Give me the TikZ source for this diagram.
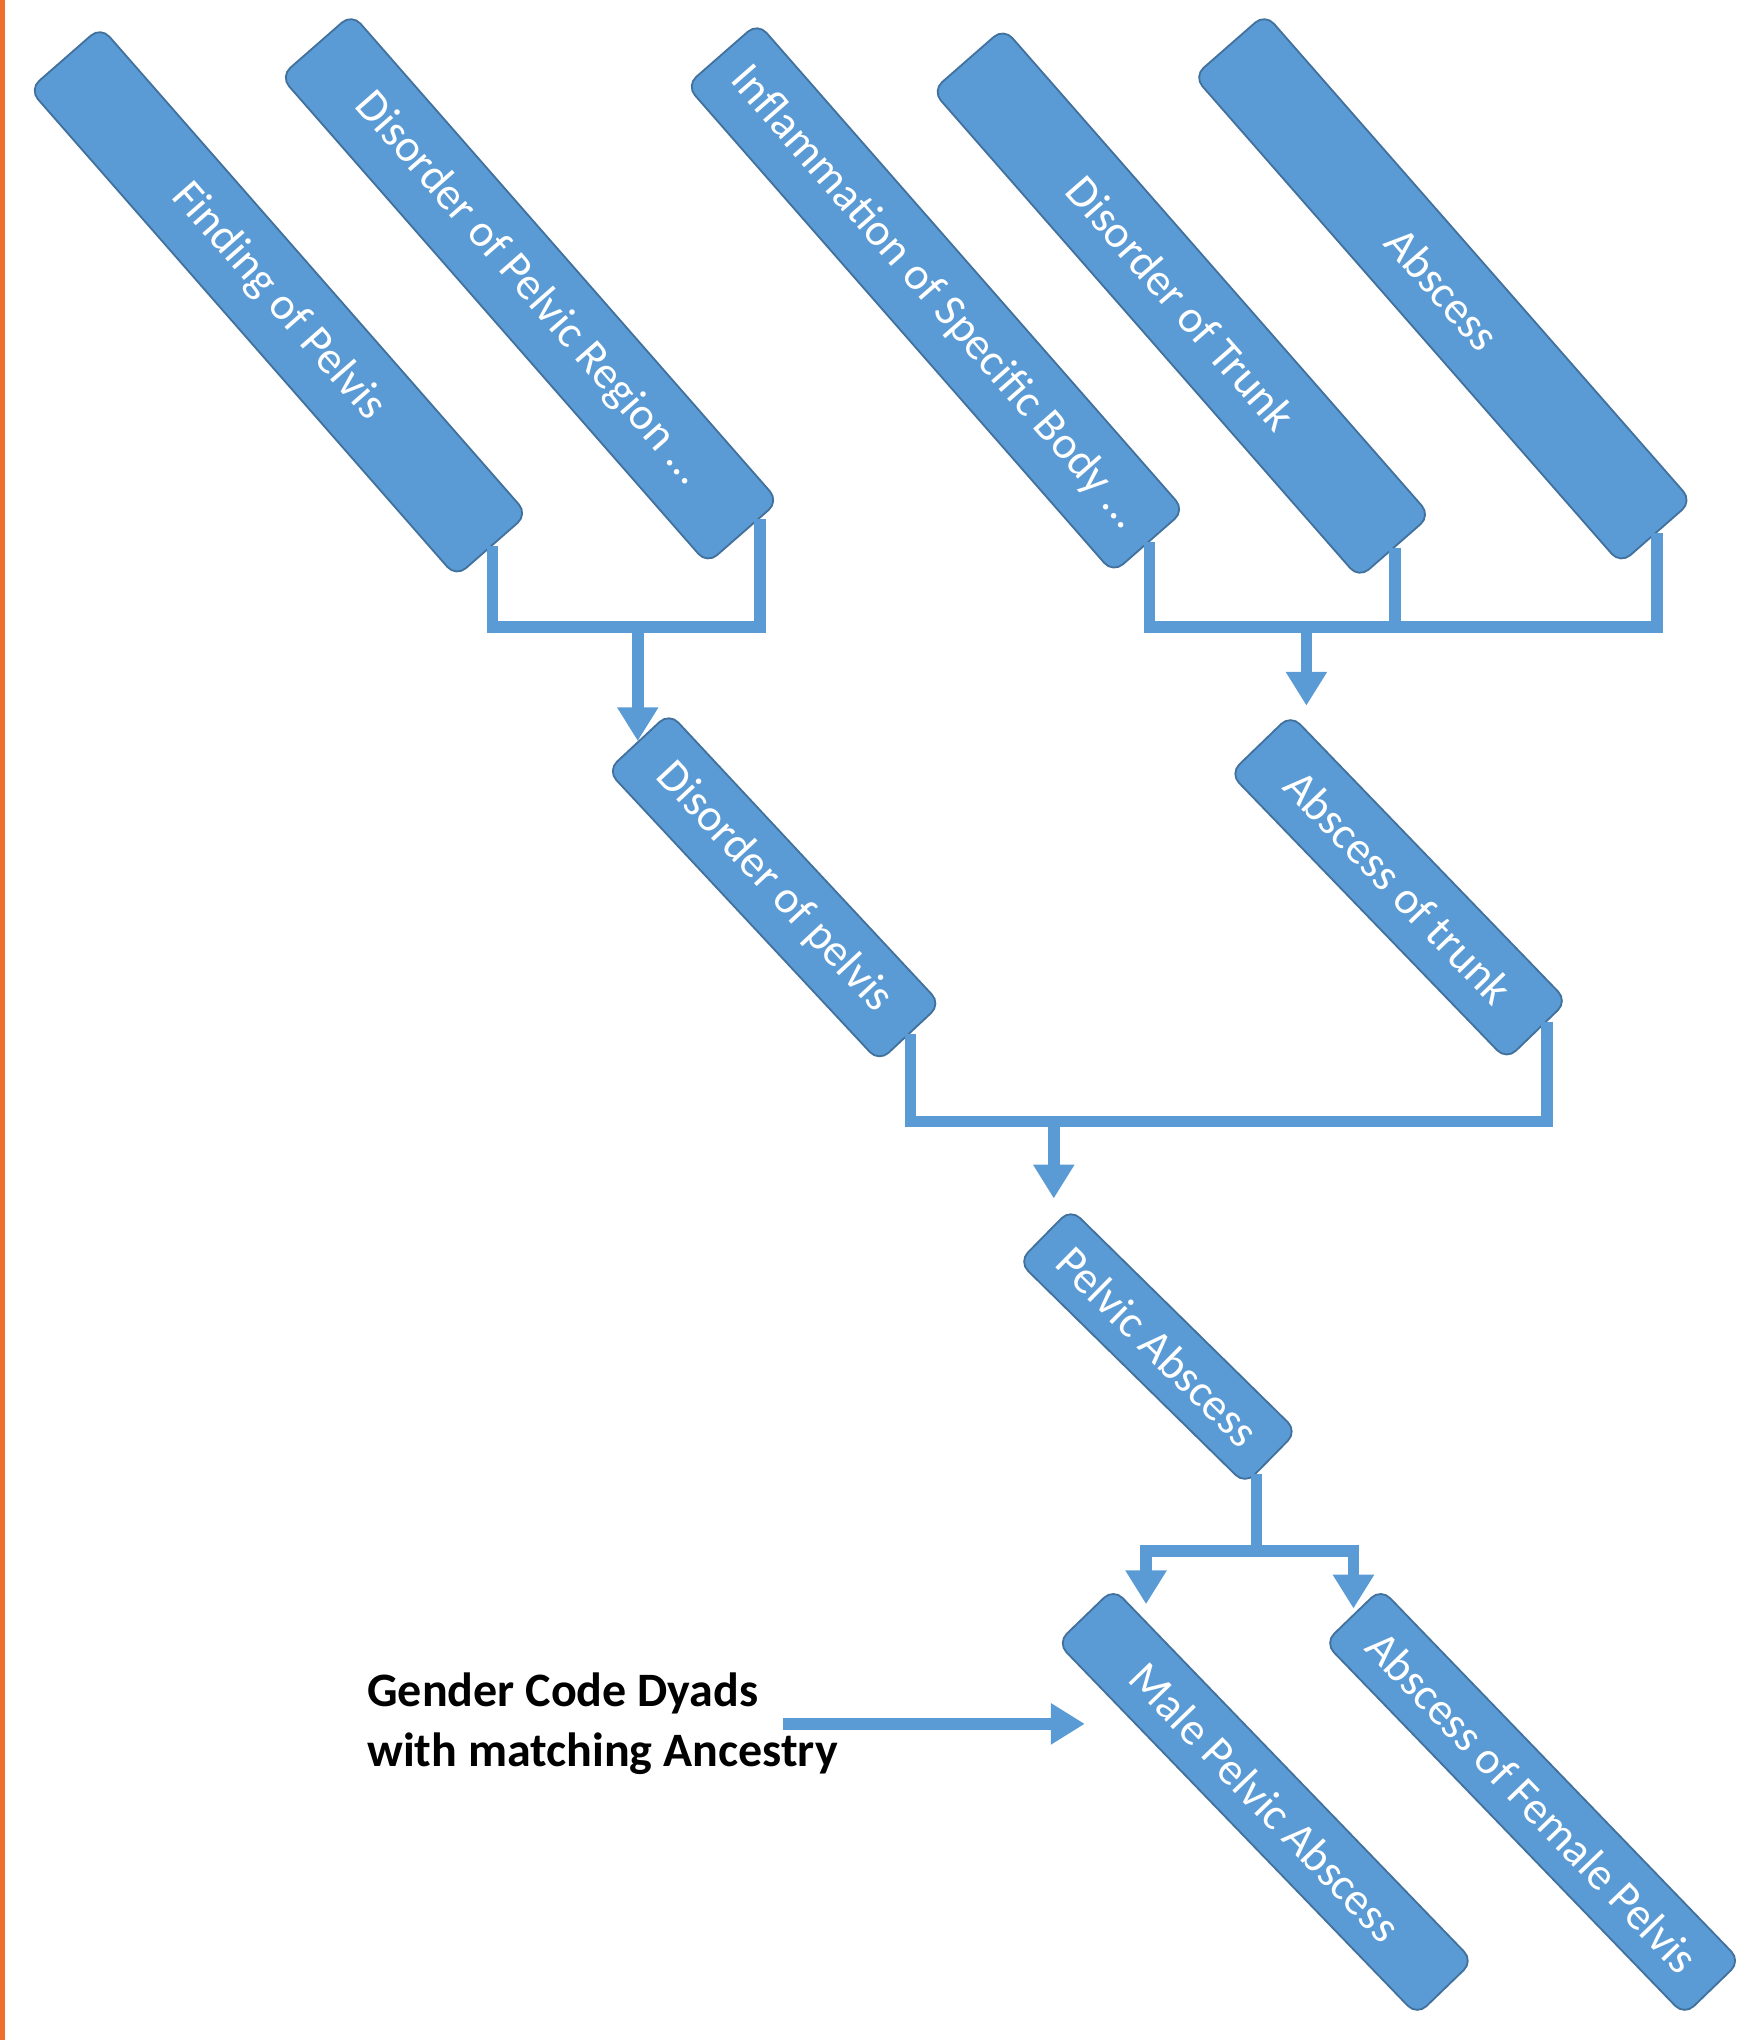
\documentclass[tikz,border=0pt]{standalone}
\usepackage{fontspec}
\setmainfont{Carlito}
\usetikzlibrary{arrows.meta,calc}
\definecolor{boxc}{RGB}{91,155,213}
\definecolor{bordc}{RGB}{65,113,156}
\definecolor{linec}{RGB}{91,155,213}
\definecolor{orangeL}{RGB}{237,110,45}
\begin{document}
\begin{tikzpicture}[x=0.02cm,y=-0.02cm,
  box/.style={draw=bordc,fill=boxc,line width=0.8pt,rounded corners=0.2cm,text=white,
    font=\fontsize{20}{24}\selectfont,inner sep=0pt,anchor=center},
  topbox/.style={box,minimum width=9.96cm,minimum height=1.46cm},
  gtext/.style={align=left,inner sep=0pt,font=\bfseries\fontsize{21}{26}\selectfont},
  conn/.style={draw=linec,line width=0.18cm,line join=miter},
  tipA/.tip={Triangle[width=0.6cm,length=0.52cm]},
  arr/.style={conn,-tipA},
  ]
\useasboundingbox (0,0) rectangle (1347,1568);
\fill[orangeL] (0,0) rectangle (4,1568);

% boxes
\node[topbox,rotate=-48.8] (A) at (214,232) {Finding of Pelvis};
\node[topbox,rotate=-48.8] (B) at (407,222) {Disorder of Pelvic Region ...};
\node[topbox,rotate=-48.8] (C) at (719,229) {Inflammation of Specific Body ...};
\node[topbox,rotate=-48.8] (D) at (908,233) {Disorder of Trunk};
\node[topbox,rotate=-48.8] (E) at (1109,222) {Abscess};
\node[box,rotate=-47,minimum width=6.12cm,minimum height=1.3cm] (F) at (595,682) {Disorder of pelvis};
\node[box,rotate=-46,minimum width=6.12cm,minimum height=1.3cm] (G) at (1075,682) {Abscess of trunk};
\node[box,rotate=-44.5,minimum width=4.88cm,minimum height=1.14cm] (H) at (890,1035) {Pelvic Abscess};
\node[box,rotate=-46,minimum width=7.96cm,minimum height=1.2cm] (I) at (972.5,1385) {Male Pelvic Abscess};
\node[box,rotate=-46,minimum width=7.96cm,minimum height=1.2cm] (J) at (1178,1385) {Abscess of Female Pelvis};

\node[gtext,anchor=west] (K) at (282,1325) {Gender Code Dyads\\with matching Ancestry};

% level bars
\coordinate (y1) at (0,482);
\coordinate (y2) at (0,862);
\coordinate (y3) at (0,1192);

% group 1
\coordinate (Bk) at ($(B.east)!0.45!(B.north east)$);
\coordinate (b1) at (F.west |- y1);
\draw[conn] (A.east) -- (A.east |- y1) -- (Bk |- y1) -- (Bk);
\draw[arr] (b1) -- (F.west);

% group 2
\coordinate (Gt) at ($(G.north west)+(12,-6)$);
\draw[conn] (C.east) -- (C.east |- y1) -- (E.east |- y1) -- (E.east);
\draw[conn] (D.east) -- (D.east |- y1);
\draw[arr] (Gt |- y1) -- (Gt);

% group 3
\coordinate (Gk) at ($(G.east)!0.3!(G.north east)$);
\coordinate (Ht) at ($(H.north west)+(-13,-7)$);
\draw[conn] (F.east) -- (F.east |- y2) -- (Gk |- y2) -- (Gk);
\draw[arr] (Ht |- y2) -- (Ht);

% group 4
\coordinate (Hk) at ($(H.east)!0.57!(H.south east)$);
\coordinate (It) at ($(I.north west)+(25,13)$);
\coordinate (Jt) at ($(J.west)+(1,-5)$);
\draw[conn] (Hk) -- (Hk |- y3);
\draw[conn,tipA-tipA] (It) -- (It |- y3) -- (Jt |- y3) -- (Jt);

% gender arrow
\coordinate (gs) at ($(K.west)+(320,0)$);
\draw[arr] (gs) -- (gs -| I.west);
\end{tikzpicture}
\end{document}
